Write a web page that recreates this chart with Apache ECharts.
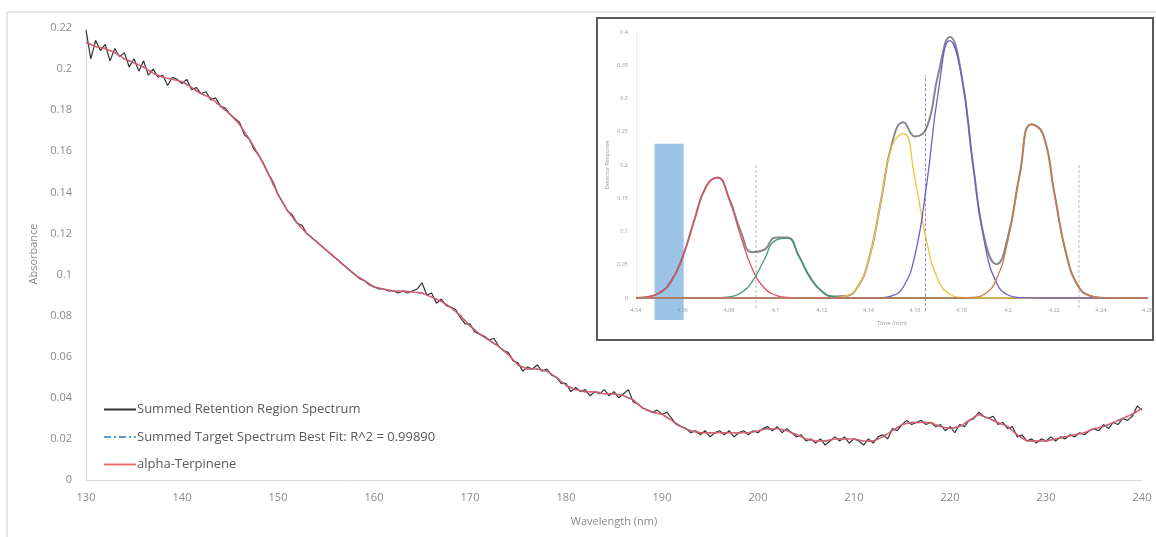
<!DOCTYPE html>
<html>
<head>
<meta charset="utf-8">
<script src="https://cdn.jsdelivr.net/npm/echarts@6/dist/echarts.min.js"></script>
<style>
  html, body { margin: 0; padding: 0; background: #fff; }
  #main { width: 1156px; height: 537px; }
</style>
</head>
<body>
<div id="main"></div>
<script>
// main spectrum, measured every 0.5 nm from 130 nm
var retentionStart = 130;
var retentionStep = 0.5;
var retentionValues = [
  0.219,0.205,0.214,0.209,0.212,0.204,0.210,0.206,0.208,0.201,
  0.205,0.199,0.204,0.197,0.200,0.196,0.197,0.192,0.196,0.195,
  0.193,0.195,0.190,0.191,0.188,0.189,0.185,0.186,0.182,0.181,
  0.178,0.176,0.174,0.168,0.166,0.161,0.158,0.154,0.149,0.145,
  0.139,0.135,0.131,0.129,0.125,0.124,0.120,0.118,0.116,0.114,
  0.112,0.110,0.108,0.106,0.104,0.102,0.100,0.098,0.097,0.095,
  0.094,0.093,0.093,0.092,0.092,0.091,0.092,0.091,0.092,0.093,
  0.096,0.090,0.091,0.086,0.088,0.085,0.084,0.083,0.079,0.076,
  0.076,0.072,0.071,0.070,0.068,0.069,0.065,0.063,0.062,0.058,
  0.057,0.053,0.055,0.054,0.056,0.053,0.054,0.051,0.050,0.047,
  0.047,0.043,0.045,0.043,0.044,0.041,0.043,0.042,0.044,0.041,
  0.043,0.040,0.042,0.044,0.038,0.037,0.035,0.034,0.033,0.034,
  0.032,0.033,0.030,0.027,0.026,0.025,0.023,0.024,0.022,0.024,
  0.021,0.023,0.024,0.022,0.024,0.021,0.023,0.024,0.022,0.024,
  0.023,0.025,0.026,0.024,0.026,0.023,0.025,0.023,0.021,0.022,
  0.019,0.020,0.018,0.020,0.017,0.019,0.021,0.019,0.021,0.018,
  0.020,0.019,0.017,0.020,0.018,0.021,0.022,0.020,0.025,0.024,
  0.027,0.029,0.027,0.028,0.029,0.027,0.028,0.026,0.027,0.024,
  0.026,0.023,0.027,0.026,0.029,0.030,0.033,0.031,0.030,0.031,
  0.027,0.028,0.025,0.026,0.021,0.022,0.019,0.020,0.018,0.020,
  0.019,0.021,0.019,0.021,0.020,0.022,0.021,0.023,0.022,0.024,
  0.025,0.024,0.027,0.025,0.028,0.027,0.030,0.029,0.031,0.036,
  0.034
];

// alpha-Terpinene reference, every 1 nm from 130 nm
var terpineneStart = 130;
var terpineneStep = 1;
var terpineneValues = [
  0.213,0.211,0.210,0.208,0.205,0.203,0.201,0.198,0.196,0.195,
  0.194,0.191,0.188,0.186,0.182,0.178,0.173,0.166,0.158,0.149,
  0.139,0.131,0.125,0.120,0.116,0.112,0.108,0.104,0.100,0.097,
  0.094,0.093,0.092,0.092,0.0915,0.091,0.089,0.087,0.084,0.080,
  0.075,0.071,0.068,0.065,0.061,0.056,0.054,0.054,0.053,0.050,
  0.046,0.044,0.043,0.043,0.042,0.042,0.041,0.039,0.035,0.033,
  0.032,0.029,0.026,0.024,0.023,0.023,0.023,0.023,0.023,0.023,
  0.024,0.025,0.025,0.024,0.022,0.020,0.019,0.019,0.020,0.020,
  0.020,0.019,0.019,0.021,0.024,0.027,0.028,0.028,0.028,0.026,
  0.025,0.026,0.029,0.032,0.030,0.028,0.026,0.022,0.019,0.019,
  0.019,0.020,0.021,0.022,0.023,0.025,0.026,0.028,0.030,0.032,
  0.035
];
// the best fit sits right under the reference curve
var bestFitValues = terpineneValues;

var wavelengthTicks = { min: 130, max: 240, interval: 10 };
var absorbanceTicks = { min: 0, max: 0.22, interval: 0.02 };

// inset chromatogram, every 0.005 min from 4.04 min
var timeStart = 4.04;
var timeStep = 0.005;
var peakRed = [0.0003,0.0017,0.0075,0.0246,0.0614,0.1161,0.1666,0.181,0.149,0.0931,0.0441,0.0158,0.0043,0.0009,0.0002,
  0,0,0,0,0,0,0,0,0,0,0,0,0,0,0,0,0,0,0,0,0,0,0,0,0,0,0,0,0,0];
var peakGreen = [0,0,0,0,0,0,0,0.0002,0.0015,0.0074,0.0248,0.0564,0.0867,0.0901,0.0634,0.0302,0.0097,0.0021,0.0003,
  0,0,0,0,0,0,0,0,0,0,0,0,0,0,0,0,0,0,0,0,0,0,0,0,0,0];
var peakYellow = [0,0,0,0,0,0,0,0,0,0,0,0,0,0,0,0,0,0.0003,0.0027,0.0151,0.0563,0.139,0.228,0.2474,0.178,0.085,0.0269,0.0056,0.0008,0.0001,
  0,0,0,0,0,0,0,0,0,0,0,0,0,0,0];
var peakPurple = [0,0,0,0,0,0,0,0,0,0,0,0,0,0,0,0,0,0,0,0,0,0.0004,0.0031,0.017,0.065,0.171,0.31,0.387,0.334,0.198,0.0813,0.0229,0.0045,0.0006,0.0001,
  0,0,0,0,0,0,0,0,0,0];
var peakBrown = [0,0,0,0,0,0,0,0,0,0,0,0,0,0,0,0,0,0,0,0,0,0,0,0,0,0,0,0,0.0001,0.0009,0.006,0.028,0.0878,0.185,0.261,0.2468,0.156,0.0664,0.0188,0.0036,0.0005,0.0001,
  0,0,0];
var peakSum = [0.0003,0.0017,0.0075,0.0246,0.0614,0.1161,0.1666,0.1812,0.1505,0.1005,
  0.0689,0.0722,0.091,0.091,0.0636,0.0302,0.0097,0.0024,0.003,0.0151,
  0.0563,0.1394,0.2311,0.2644,0.243,0.256,0.3369,0.3926,0.3349,0.199,
  0.0873,0.0509,0.0923,0.1856,0.2611,0.2468,0.156,0.0664,0.0188,0.0036,
  0.0005,0.0001,0,0,0];
// shaded window: [start, end, bottom, top]
var retentionWindow = [4.048, 4.0605, -0.033, 0.232];
// dashed cut lines: [time, bottom, top]
var cutLines = [[4.0916, -0.015, 0.2], [4.1645, -0.02, 0.335], [4.2305, -0.015, 0.2]];
var cutColors = ['#b8b8b8', '#8a86c0', '#b8b8b8'];

function pairs(start, step, values) {
  var out = [];
  for (var i = 0; i < values.length; i++) {
    out.push([+(start + i * step).toFixed(4), values[i]]);
  }
  return out;
}

function insetLine(values, color, width) {
  return {
    type: 'line', xAxisIndex: 1, yAxisIndex: 1,
    data: pairs(timeStart, timeStep, values),
    smooth: 0.5, symbol: 'none', silent: true,
    lineStyle: { color: color, width: width || 1.3 }
  };
}

var myChart = echarts.init(document.getElementById('main'));
var grayText = '#8a8a8a';
var option = {
  backgroundColor: '#fff',
  animation: false,
  textStyle: { fontFamily: 'Open Sans, Noto Sans, sans-serif' },
  graphic: [
    { type: 'line', shape: { x1: 7, y1: 12, x2: 1156, y2: 12 }, style: { stroke: '#d0d0d0', lineWidth: 1 } },
    { type: 'line', shape: { x1: 7, y1: 12, x2: 7, y2: 537 }, style: { stroke: '#d0d0d0', lineWidth: 1 } },
    { type: 'rect', shape: { x: 597, y: 18, width: 556, height: 322 }, style: { fill: '#fff', stroke: '#5a5a5a', lineWidth: 2 } }
  ],
  legend: {
    orient: 'vertical', left: 98, top: 398,
    itemWidth: 32, itemHeight: 14, itemGap: 14.5,
    itemStyle: { opacity: 0 },
    textStyle: { fontSize: 13, color: '#595959', padding: [0, 0, 0, -4] },
    data: ['Summed Retention Region Spectrum', 'Summed Target Spectrum Best Fit: R^2 = 0.99890', 'alpha-Terpinene']
  },
  grid: [
    { left: 86, right: 14, top: 28, bottom: 57 },
    { left: 636, right: 8, top: 32, bottom: 239 }
  ],
  xAxis: [{
    type: 'value', gridIndex: 0,
    min: wavelengthTicks.min, max: wavelengthTicks.max, interval: wavelengthTicks.interval,
    name: 'Wavelength (nm)', nameLocation: 'middle', nameGap: 36,
    nameTextStyle: { fontSize: 11, color: grayText },
    axisLine: { lineStyle: { color: '#d9d9d9' } },
    axisTick: { show: false },
    axisLabel: { fontSize: 11, color: grayText, margin: 12 },
    splitLine: { show: false }
  }, {
    type: 'value', gridIndex: 1,
    min: 4.04, max: 4.26, interval: 0.02,
    name: 'Time (min)', nameLocation: 'middle', nameGap: 22,
    nameTextStyle: { fontSize: 6, color: '#999' },
    axisLine: { lineStyle: { color: '#e0e0e0' } },
    axisTick: { show: false },
    axisLabel: { fontSize: 5.5, color: '#999', margin: 9 },
    splitLine: { show: false }
  }],
  yAxis: [{
    type: 'value', gridIndex: 0,
    min: absorbanceTicks.min, max: absorbanceTicks.max, interval: absorbanceTicks.interval,
    name: 'Absorbance', nameLocation: 'middle', nameGap: 45,
    nameTextStyle: { fontSize: 11, color: grayText },
    axisLine: { show: true, lineStyle: { color: '#d9d9d9' } },
    axisTick: { show: false },
    axisLabel: { fontSize: 11, color: grayText, margin: 14 },
    splitLine: { show: false }
  }, {
    type: 'value', gridIndex: 1,
    min: 0, max: 0.4, interval: 0.05,
    name: 'Detector Response', nameLocation: 'middle', nameGap: 26,
    nameTextStyle: { fontSize: 5.5, color: '#999' },
    axisLine: { show: true, lineStyle: { color: '#eeeeee' } },
    axisTick: { show: false },
    axisLabel: { fontSize: 5.5, color: '#999', margin: 8 },
    splitLine: { show: false }
  }],
  series: [{
    name: 'Summed Retention Region Spectrum',
    type: 'line', xAxisIndex: 0, yAxisIndex: 0,
    data: pairs(retentionStart, retentionStep, retentionValues),
    symbol: 'none',
    itemStyle: { color: '#333333' },
    lineStyle: { color: '#333333', width: 1.2 }
  }, {
    name: 'Summed Target Spectrum Best Fit: R^2 = 0.99890',
    type: 'line', xAxisIndex: 0, yAxisIndex: 0,
    data: pairs(terpineneStart, terpineneStep, bestFitValues),
    symbol: 'none',
    itemStyle: { color: '#5b9bd5' },
    lineStyle: { color: '#5b9bd5', width: 1.5, type: [7, 3, 2, 3] }
  }, {
    name: 'alpha-Terpinene',
    type: 'line', xAxisIndex: 0, yAxisIndex: 0,
    data: pairs(terpineneStart, terpineneStep, terpineneValues),
    symbol: 'none',
    itemStyle: { color: '#e8515b' },
    lineStyle: { color: '#e8515b', width: 1.5, opacity: 0.85 }
  }, {
    // shaded retention window and dashed cut lines, placed through the inset axes
    type: 'custom', xAxisIndex: 1, yAxisIndex: 1, silent: true, clip: false, z: 1,
    data: [retentionWindow],
    renderItem: function (params, api) {
      var a = api.coord([retentionWindow[0], retentionWindow[3]]);
      var b = api.coord([retentionWindow[1], retentionWindow[2]]);
      var children = [{
        type: 'rect',
        shape: { x: a[0], y: a[1], width: b[0] - a[0], height: b[1] - a[1] },
        style: { fill: 'rgba(91,155,213,0.6)' }
      }];
      for (var i = 0; i < cutLines.length; i++) {
        var p = api.coord([cutLines[i][0], cutLines[i][1]]);
        var q = api.coord([cutLines[i][0], cutLines[i][2]]);
        children.push({
          type: 'line',
          shape: { x1: p[0], y1: p[1], x2: q[0], y2: q[1] },
          style: { stroke: cutColors[i], lineWidth: 1, lineDash: [3, 2] }
        });
      }
      return { type: 'group', children: children };
    }
  }, {
    type: 'line', xAxisIndex: 1, yAxisIndex: 1,
    data: pairs(timeStart, timeStep, peakSum),
    smooth: 0.5, symbol: 'none', silent: true,
    lineStyle: { color: '#56525e', width: 2, opacity: 0.7 }
  },
    insetLine(peakRed, '#e0505a'),
    insetLine(peakGreen, '#3f9a72'),
    insetLine(peakYellow, '#f2c23c'),
    insetLine(peakPurple, '#6a5fc8'),
    insetLine(peakBrown, '#c97b45')
  ]
};
myChart.setOption(option);
</script>
</body>
</html>
